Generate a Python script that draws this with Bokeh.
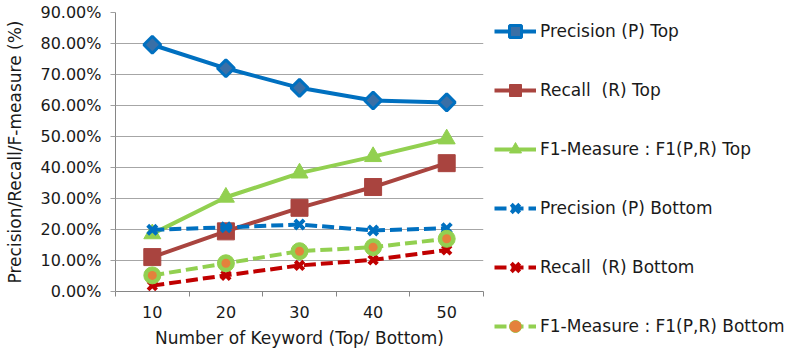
from bokeh.plotting import figure
from bokeh.layouts import row
from bokeh.models import (ColumnDataSource, FixedTicker, NumeralTickFormatter,
                          Legend, LegendItem, Range1d)
from bokeh.embed import file_html
from bokeh.resources import INLINE
import numpy as np

# Number of keywords evaluated
keywords = [10, 20, 30, 40, 50]

# Scores (fractions) for top and bottom keyword lists
precision_top = [0.796, 0.720, 0.657, 0.616, 0.610]
recall_top = [0.111, 0.194, 0.270, 0.337, 0.414]
f1_top = [0.186, 0.304, 0.382, 0.435, 0.492]
precision_bottom = [0.199, 0.207, 0.216, 0.197, 0.204]
recall_bottom = [0.019, 0.052, 0.084, 0.102, 0.134]
f1_bottom = [0.052, 0.091, 0.130, 0.143, 0.170]

y_ticks = [0.0, 0.1, 0.2, 0.3, 0.4, 0.5, 0.6, 0.7, 0.8, 0.9]

FONT = "DejaVu Sans"
FS = "16px"
FS_LABEL = "17px"
TEXT = "#1a1a1a"
BLUE = "#0070C0"
BROWN = "#A9443F"
GREEN = "#92D050"
DARKRED = "#C00000"
ORANGE = "#E4813C"

p = figure(width=489, height=351, output_backend="svg", toolbar_location=None,
           x_range=Range1d(5, 55), y_range=Range1d(0, 0.9),
           min_border_left=115, min_border_right=6,
           min_border_top=12, min_border_bottom=60)
p.outline_line_color = None
p.background_fill_color = "white"
p.border_fill_color = "white"

# y axis: percentages with horizontal gridlines
p.yaxis.ticker = FixedTicker(ticks=y_ticks)
p.yaxis.formatter = NumeralTickFormatter(format="0.00%")
p.yaxis.axis_line_color = "#868686"
p.yaxis.major_tick_line_color = "#A0A0A0"
p.yaxis.major_tick_out = 5
p.yaxis.major_tick_in = 0
p.yaxis.minor_tick_line_color = None
p.yaxis.major_label_standoff = 9
p.yaxis.axis_label = "Precision/Recall/F-measure (%)"
p.yaxis.axis_label_standoff = 12

# x axis: category labels centred, tick marks between categories
p.xaxis.ticker = FixedTicker(ticks=keywords, minor_ticks=[5, 15, 25, 35, 45, 55])
p.xaxis.axis_line_color = "#868686"
p.xaxis.major_tick_line_color = None
p.xaxis.major_tick_out = 0
p.xaxis.major_tick_in = 0
p.xaxis.minor_tick_line_color = "#868686"
p.xaxis.minor_tick_out = 5
p.xaxis.minor_tick_in = 0
p.xaxis.major_label_standoff = 9
p.xaxis.axis_label = "Number of Keyword (Top/ Bottom)"
p.xaxis.axis_label_standoff = 7

for ax in (p.xaxis, p.yaxis):
    ax.major_label_text_font = FONT
    ax.major_label_text_font_size = FS
    ax.major_label_text_color = TEXT
    ax.axis_label_text_font = FONT
    ax.axis_label_text_font_size = FS_LABEL
    ax.axis_label_text_font_style = "normal"
    ax.axis_label_text_color = TEXT

p.xgrid.grid_line_color = None
p.ygrid.grid_line_color = "#A6A6A6"
p.ygrid.grid_line_width = 1

src = ColumnDataSource(dict(x=keywords,
                            pt=precision_top, rt=recall_top, ft=f1_top,
                            pb=precision_bottom, rb=recall_bottom, fb=f1_bottom))

# Side panel holding the legend; its swatch renderers sit outside the visible range
lf = figure(width=298, height=351, output_backend="svg", toolbar_location=None,
            x_range=Range1d(0, 1), y_range=Range1d(0, 1),
            min_border_left=0, min_border_right=0,
            min_border_top=11, min_border_bottom=0)
lf.frame_align = False
lf.axis.visible = False
lf.grid.visible = False
lf.outline_line_color = None
lf.background_fill_color = "white"
lf.border_fill_color = "white"
swatch = ColumnDataSource(dict(x=[-10, -9], y=[-10, -10]))

series = [
    # (label, column, colour, dash, marker specs)
    ("Precision (P) Top", "pt", BLUE, "solid",
     [dict(marker="square", angle=np.pi / 4, size=12, fill_color="#3A6FA6",
           line_color=BLUE, line_width=3)]),
    ("Recall  (R) Top", "rt", BROWN, "solid",
     [dict(marker="square", size=17, fill_color=BROWN, line_color=BROWN, line_width=1)]),
    ("F1-Measure : F1(P,R) Top", "ft", GREEN, "solid",
     [dict(marker="triangle", size=17, fill_color=GREEN, line_color=GREEN, line_width=1)]),
    ("Precision (P) Bottom", "pb", BLUE, "12 5",
     [dict(marker="x", size=13, line_color=BLUE, line_width=4)]),
    ("Recall  (R) Bottom", "rb", DARKRED, "12 5",
     [dict(marker="x", size=12, line_color=DARKRED, line_width=4)]),
    ("F1-Measure : F1(P,R) Bottom", "fb", GREEN, "12 5",
     [dict(marker="circle", size=17, fill_color=GREEN, line_color=GREEN, line_width=1),
      dict(marker="circle", size=9, fill_color=ORANGE, line_color=None)]),
]

items = []
for label, col, color, dash, markers in series:
    p.line("x", col, source=src, line_color=color, line_width=4, line_dash=dash)
    for mk in markers:
        p.scatter("x", col, source=src, **mk)
    rs = [lf.line("x", "y", source=swatch, line_color=color, line_width=4, line_dash=dash)]
    for mk in markers:
        rs.append(lf.scatter("x", "y", source=swatch, **mk))
    items.append(LegendItem(label=label, renderers=rs))

legend = Legend(items=items, location="top_left",
                glyph_width=42, glyph_height=30, label_height=30,
                spacing=29, padding=5, margin=5, label_standoff=4,
                label_text_font=FONT, label_text_font_size=FS_LABEL,
                label_text_color=TEXT,
                border_line_color=None, background_fill_alpha=0)
lf.add_layout(legend, "center")

layout = row(p, lf, spacing=0)
open("out.html", "w").write(file_html(layout, INLINE))
